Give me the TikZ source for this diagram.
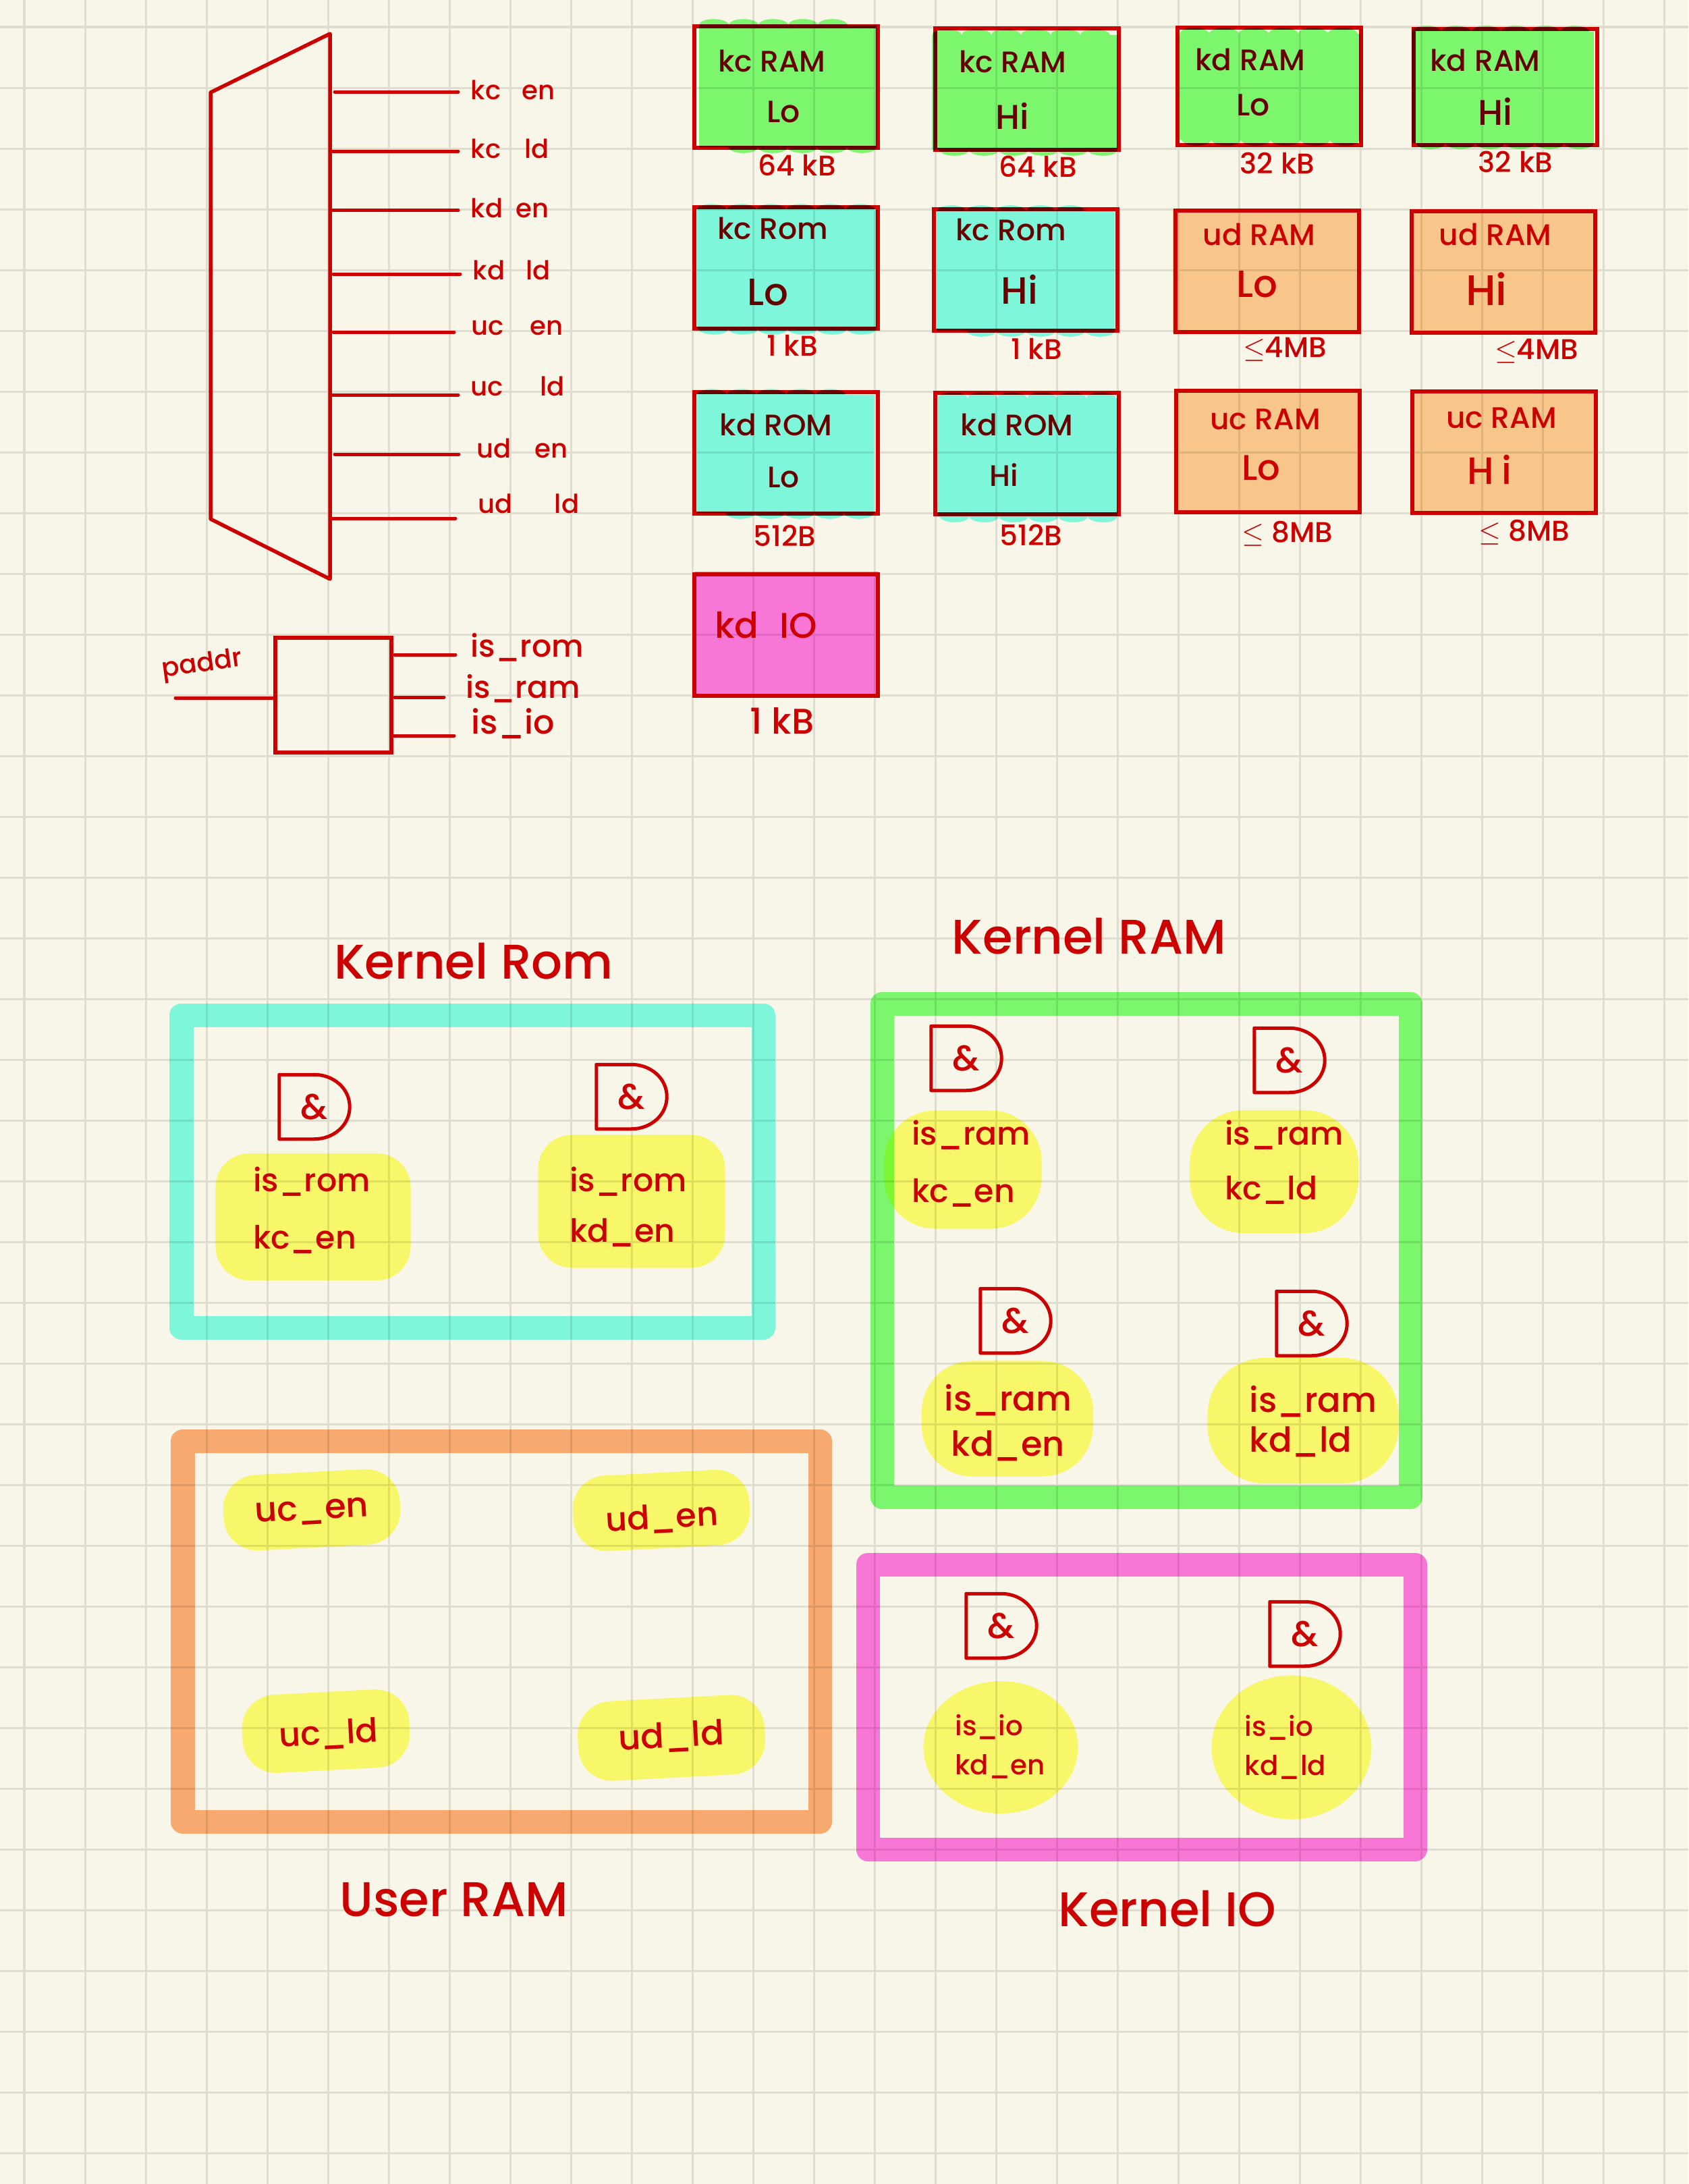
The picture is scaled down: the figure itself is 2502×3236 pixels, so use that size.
\documentclass[tikz,border=0pt]{standalone}
\usepackage{fontspec}
\usepackage{amsmath}
\setmainfont{Poppins Medium}
\usetikzlibrary{positioning,shapes.geometric,decorations.pathmorphing}
\definecolor{mainred}{RGB}{204,0,0}
\definecolor{paper}{RGB}{248,246,232}
\definecolor{gridline}{RGB}{222,221,208}
\definecolor{hlgreen}{RGB}{128,255,120}
\definecolor{hlcyan}{RGB}{130,255,240}
\definecolor{hlorange}{RGB}{255,206,152}
\definecolor{hlframe}{RGB}{255,176,124}
\definecolor{hlpink}{RGB}{255,124,236}
\definecolor{hlyellow}{RGB}{255,255,116}
\newcommand{\fs}[1]{\fontsize{#1}{14}\selectfont}
\newcommand{\marker}[5]{\path[hilite,fill=#1] (#2,#3) decorate {-- (#4,#3)} -- (#4,#5) decorate {-- (#2,#5)} -- cycle;}
\tikzset{
  wire/.style={draw=mainred,line width=.5mm,line cap=round},
  lbl/.style={text=mainred,anchor=west,inner xsep=.18cm,inner ysep=0pt,font=\fs{11}},
  membox/.style={draw=mainred,line width=.6mm,minimum width=2.72cm,minimum height=1.8cm,inner sep=0pt},
  memname/.style={text=mainred,inner sep=0pt,font=\fs{12.5}},
  memsize/.style={text=mainred,inner sep=0pt,font=\fs{12}},
  hilite/.style={blend mode=multiply,decoration={bumps,segment length=25pt,amplitude=2.5pt}},
  bandbox/.style={blend mode=multiply,line width=.35cm,line join=round},
  title/.style={text=mainred,inner sep=0pt,font=\fs{20.5}},
  gate/.style={text=mainred,minimum width=1.03cm,minimum height=.94cm,inner sep=0pt,font=\fs{15},
    append after command={\pgfextra{\draw[mainred,line width=.5mm,line join=round]
      (\tikzlastnode.south west) -- (\tikzlastnode.north west) -- (\tikzlastnode.north) to[out=0,in=90] (\tikzlastnode.east)
      to[out=-90,in=0] (\tikzlastnode.south) -- cycle;}}},
  blob/.style={fill=hlyellow,blend mode=multiply,inner sep=0pt,rounded corners=.5cm},
  roundblob/.style={blob,ellipse},
  inputs/.style={text=mainred,align=left,inner sep=0pt,font=\fs{13.5}},
}
\begin{document}
\begin{tikzpicture}[x=.01cm,y=-.01cm]
\useasboundingbox (0,0) rectangle (2502,3236);
\fill[paper] (0,0) rectangle (2502,3236);
% squared paper
\foreach \i in {0,...,27} {\draw[gridline,line width=.3mm] ({36+90*\i},0) -- ({36+90*\i},3236);}
\foreach \j in {0,...,35} {\draw[gridline,line width=.3mm] (0,{40+90*\j}) -- (2502,{40+90*\j});}

% decoder
\draw[wire,line join=round,line width=.55mm] (312,137) -- (489,50) -- (489,858) -- (312,769) -- cycle;
\coordinate (m1) at (496,136); \coordinate (m2) at (493,224); \coordinate (m3) at (491,311); \coordinate (m4) at (494,406);
\coordinate (m5) at (494,492); \coordinate (m6) at (493,585); \coordinate (m7) at (496,673); \coordinate (m8) at (490,768);
\node[lbl] (kcen) at (679,133) {kc\hspace{.8em}en};
\node[lbl] (kcld) at (679,220) {kc\hspace{.9em}ld};
\node[lbl] (kden) at (679,308) {kd\hspace{.5em}en};
\node[lbl] (kdld) at (682,400) {kd\hspace{.8em}ld};
\node[lbl,inner xsep=.25cm] (ucen) at (673,486) {uc\hspace{1em}en};
\node[lbl] (ucld) at (679,572) {uc\hspace{1.4em}ld};
\node[lbl,inner xsep=.26cm] (uden) at (680,664) {ud\hspace{.9em}en};
\node[lbl,inner xsep=.33cm] (udld) at (675,746) {ud\hspace{1.6em}ld};
\draw[wire] (m1)--(m1-|kcen.west); \draw[wire] (m2)--(m2-|kcld.west); \draw[wire] (m3)--(m3-|kden.west); \draw[wire] (m4)--(m4-|kdld.west);
\draw[wire] (m5)--(m5-|ucen.west); \draw[wire] (m6)--(m6-|ucld.west); \draw[wire] (m7)--(m7-|uden.west); \draw[wire] (m8)--(m8-|udld.west);

% address select
\node[draw=mainred,line width=.6mm,minimum width=1.71cm,minimum height=1.7cm] (sel) at (494,1030) {};
\coordinate (s1) at (585,970); \coordinate (s2) at (585,1033); \coordinate (s3) at (583,1090); \coordinate (pin) at (404,1034);
\node[lbl,inner xsep=.22cm,font=\fs{13}] (isrom) at (675,959) {is\_rom};
\node[lbl,inner xsep=.32cm,font=\fs{13}] (isram) at (658,1020) {is\_ram};
\node[lbl,inner xsep=.25cm,font=\fs{14}] (isio) at (673,1072) {is\_io};
\coordinate (pout) at (260,1034);
\node[text=mainred,inner sep=0pt,rotate=8,font=\fs{11}] (paddr) at (300,986) {paddr};
\draw[wire] (s1)--(s1-|isrom.west); \draw[wire] (s2)--(s2-|isram.west); \draw[wire] (s3)--(s3-|isio.west); \draw[wire] (pout)--(pin);

% memory regions, first row
\node[membox] (a1) at (1165,129) {}; \node[memname] (a1t) at (1144,90) {kc RAM}; \node[memname,font=\fs{13}] (a1b) at (1161,166) {Lo};
\node[membox] (a2) at (1522,132) {}; \node[memname] (a2t) at (1501,91) {kc RAM}; \node[memname,font=\fs{14.5}] (a2b) at (1500,172) {Hi};
\node[membox,minimum height=1.73cm] (a3) at (1881,128) {}; \node[memname] (a3t) at (1853,88) {kd RAM}; \node[memname,font=\fs{13}] (a3b) at (1857,156) {Lo};
\node[membox,minimum height=1.72cm] (a4) at (2231,129) {}; \node[memname] (a4t) at (2201,89) {kd RAM}; \node[memname,font=\fs{15}] (a4b) at (2216,165) {Hi};
\marker{hlgreen}{1036}{37}{1299}{218}
\marker{hlgreen}{1381}{52}{1656}{222}
\marker{hlgreen}{1748}{50}{2015}{207}
\marker{hlgreen}{2092}{47}{2362}{212}
\node[memsize] (a1s) at (1181,245) {64 kB}; \node[memsize] (a2s) at (1538,247) {64 kB};
\node[memsize] (a3s) at (1893,242) {32 kB}; \node[memsize] (a4s) at (2246,240) {32 kB};

% second row
\node[membox] (b1) at (1165,397) {}; \node[memname] (b1t) at (1145,338) {kc Rom}; \node[memname,font=\fs{16}] (b1b) at (1138,433) {Lo};
\node[membox] (b2) at (1520,400) {}; \node[memname] (b2t) at (1498,340) {kc Rom}; \node[memname,font=\fs{16}] (b2b) at (1511,429) {Hi};
\marker{hlcyan}{1033}{311}{1299}{487}
\marker{hlcyan}{1388}{313}{1652}{490}
\path[blend mode=multiply,fill=hlorange] (1738,310) rectangle (2013,493);
\path[blend mode=multiply,fill=hlorange] (2090,311) rectangle (2363,494);
\node[membox] (b3) at (1878,402) {}; \node[memname] (b3t) at (1866,347) {ud RAM}; \node[memname,font=\fs{16}] (b3b) at (1863,421) {Lo};
\node[membox] (b4) at (2228,403) {}; \node[memname] (b4t) at (2216,347) {ud RAM}; \node[memname,font=\fs{18}] (b4b) at (2203,428) {Hi};
\node[memsize] (b1s) at (1174,512) {1 kB}; \node[memsize] (b2s) at (1536,517) {1 kB};
\node[memsize] (b3s) at (1904,517) {$\leq$4MB}; \node[memsize] (b4s) at (2277,520) {$\leq$4MB};

% third row
\node[membox] (c1) at (1165,671) {}; \node[memname] (c1t) at (1150,629) {kd ROM}; \node[memname] (c1b) at (1161,707) {Lo};
\node[membox] (c2) at (1522,672) {}; \node[memname] (c2t) at (1507,629) {kd ROM}; \node[memname] (c2b) at (1488,704) {Hi};
\marker{hlcyan}{1033}{585}{1295}{760}
\marker{hlcyan}{1390}{590}{1656}{765}
\path[blend mode=multiply,fill=hlorange] (1744,577) rectangle (2015,758);
\path[blend mode=multiply,fill=hlorange] (2094,578) rectangle (2365,760);
\node[membox] (c3) at (1879,669) {}; \node[memname] (c3t) at (1875,621) {uc RAM}; \node[memname,font=\fs{15}] (c3b) at (1869,693) {Lo};
\node[membox] (c4) at (2229,670) {}; \node[memname] (c4t) at (2225,619) {uc RAM}; \node[memname,font=\fs{16}] (c4b) at (2207,696) {H\hspace{.2em}i};
\node[memsize] (c1s) at (1163,794) {512B}; \node[memsize] (c2s) at (1528,793) {512B};
\node[memsize] (c3s) at (1908,791) {$\leq$ 8MB}; \node[memsize] (c4s) at (2259,789) {$\leq$ 8MB};

% io
\path[blend mode=multiply,fill=hlpink] (1029,847) rectangle (1302,1033);
\node[membox] (d1) at (1165,941) {}; \node[memname,font=\fs{15}] (d1t) at (1135,926) {kd\hspace{.6em}IO};
\node[memsize,font=\fs{15}] (d1s) at (1159,1068) {1 kB};

% bands
\draw[hlcyan,bandbox] (269,1504) rectangle (1131,1967);
\draw[hlgreen,bandbox] (1307,1487) rectangle (2090,2218);
\draw[hlframe,bandbox] (271,2135) rectangle (1215,2699);
\draw[hlpink,bandbox] (1286,2318) rectangle (2097,2740);
\node[title] (romt) at (702,1424) {Kernel Rom};
\node[title] (ramt) at (1614,1387) {Kernel RAM};
\node[title] (usrt) at (673,2815) {User RAM};
\node[title] (iot) at (1730,2828) {Kernel IO};

% gates with their inputs
\node[gate] (g1) at (466,1640) {\&};
\node[gate] (g2) at (936,1625) {\&};
\node[blob,minimum width=2.89cm,minimum height=1.88cm] (r1) at (464,1803) {};
\node[blob,minimum width=2.77cm,minimum height=1.97cm] (r2) at (936,1780) {};
\node[inputs] (r1t) at (462,1793) {is\_rom\\[10pt]kc\_en};
\node[inputs] (r2t) at (931,1788) {is\_rom\\[7.5pt]kd\_en};
\node[gate] (g3) at (1432,1568) {\&};
\node[gate] (g4) at (1911,1571) {\&};
\node[gate] (g5) at (1505,1957) {\&};
\node[gate] (g6) at (1944,1961) {\&};
\node[blob,rounded corners=.75cm,minimum width=2.33cm,minimum height=1.75cm] (k1) at (1427,1733) {};
\node[blob,rounded corners=.8cm,minimum width=2.5cm,minimum height=1.82cm] (k2) at (1888,1736) {};
\node[blob,rounded corners=.75cm,minimum width=2.54cm,minimum height=1.71cm] (k3) at (1493,2102) {};
\node[blob,rounded corners=.85cm,minimum width=2.83cm,minimum height=1.86cm] (k4) at (1931,2105) {};
\node[inputs] (k1t) at (1439,1724) {is\_ram\\[10pt]kc\_en};
\node[inputs] (k2t) at (1903,1722) {is\_ram\\[9pt]kc\_ld};
\node[inputs,font=\fs{14.5},align=center] (k3t) at (1494,2108) {is\_ram\\[5pt]kd\_en};
\node[inputs,font=\fs{14.5}] (k4t) at (1946,2106) {is\_ram\\[3pt]kd\_ld};
\node[gate] (g7) at (1484,2409) {\&};
\node[gate] (g8) at (1934,2421) {\&};
\node[roundblob,minimum width=2.29cm,minimum height=1.96cm] (i1) at (1483,2589) {};
\node[roundblob,minimum width=2.37cm,minimum height=2.13cm] (i2) at (1914,2589) {};
\node[inputs,font=\fs{11.5}] (i1t) at (1482,2588) {is\_io\\[2.5pt]kd\_en};
\node[inputs,font=\fs{11.5}] (i2t) at (1905,2589) {is\_io\\[2.5pt]kd\_ld};
\node[blob,rotate=3,minimum width=2.62cm,minimum height=1.12cm] (u1) at (462,2237) {};
\node[blob,rotate=3,minimum width=2.62cm,minimum height=1.12cm] (u2) at (980,2238) {};
\node[blob,rotate=3,minimum width=2.48cm,minimum height=1.16cm] (u3) at (483,2565) {};
\node[blob,rotate=3,minimum width=2.77cm,minimum height=1.18cm] (u4) at (995,2575) {};
\node[inputs,rotate=3,font=\fs{14.5}] (u1t) at (462,2241) {uc\_en};
\node[inputs,rotate=3,font=\fs{14}] (u2t) at (981,2250) {ud\_en};
\node[inputs,rotate=3,font=\fs{14}] (u3t) at (487,2570) {uc\_ld};
\node[inputs,rotate=3,font=\fs{14.5}] (u4t) at (995,2574) {ud\_ld};
\end{tikzpicture}
\end{document}
